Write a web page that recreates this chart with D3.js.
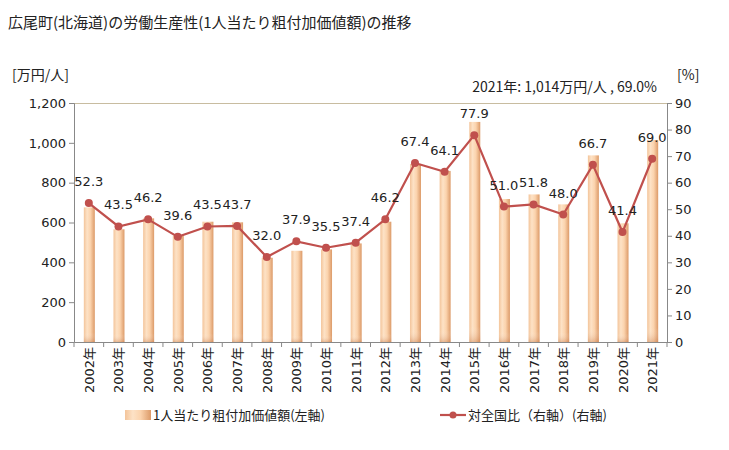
<!DOCTYPE html>
<html><head><meta charset="utf-8">
<script src="https://cdn.jsdelivr.net/npm/d3@7"></script>
<style>
body{margin:0;background:#fff;}
svg text{font-family:"DejaVu Sans",Verdana,"Noto Sans CJK JP",sans-serif;fill:#222;}
.jp{font-family:"Noto Sans CJK JP",sans-serif;}
</style></head>
<body>
<svg id="c" width="729" height="450"></svg>
<script>
const years = ["2002年","2003年","2004年","2005年","2006年","2007年","2008年","2009年","2010年","2011年","2012年","2013年","2014年","2015年","2016年","2017年","2018年","2019年","2020年","2021年"];
const productivity = [676,566,621,534,604,601,423,458,465,495,604,894,859,1105,718,741,691,937,596,1014];
const ratio = [52.3,43.5,46.2,39.6,43.5,43.7,32.0,37.9,35.5,37.4,46.2,67.4,64.1,77.9,51.0,51.8,48.0,66.7,41.4,69.0];
const leftTicks = [0,200,400,600,800,1000,1200];
const rightTicks = [0,10,20,30,40,50,60,70,80,90];

const svg = d3.select("#c");
const L=74, R=667, T=103, B=342;
const x = d3.scaleBand().domain(years).range([L,R]);
const yL = d3.scaleLinear().domain([0,1200]).range([B,T]);
const yR = d3.scaleLinear().domain([0,90]).range([B,T]);

const defs = svg.append("defs");
const g1 = defs.append("linearGradient").attr("id","barg").attr("x1","0").attr("x2","1").attr("y1","0").attr("y2","0");
g1.append("stop").attr("offset","0").attr("stop-color","#f3c49a");
g1.append("stop").attr("offset","0.3").attr("stop-color","#fde2c6");
g1.append("stop").attr("offset","0.6").attr("stop-color","#fbd3ad");
g1.append("stop").attr("offset","1").attr("stop-color","#dc9a68");
const g2 = defs.append("linearGradient").attr("id","barv").attr("x1","0").attr("x2","0").attr("y1","0").attr("y2","1");
g2.append("stop").attr("offset","0").attr("stop-color","#fff").attr("stop-opacity","0");
g2.append("stop").attr("offset","0.93").attr("stop-color","#fff").attr("stop-opacity","0");
g2.append("stop").attr("offset","1").attr("stop-color","#c07040").attr("stop-opacity","0.35");

// title
svg.append("text").attr("class","jp").attr("x",8).attr("y",28).attr("font-size",15).text("広尾町(北海道)の労働生産性(1人当たり粗付加価値額)の推移");
svg.append("text").attr("class","jp").attr("x",12).attr("y",80).attr("font-size",14).text("[万円/人]");
svg.append("text").attr("class","jp").attr("x",677).attr("y",80).attr("font-size",14).text("[%]");
svg.append("text").attr("class","jp").attr("x",657).attr("y",92).attr("text-anchor","end").attr("font-size",14).text("2021年: 1,014万円/人 , 69.0%");

// top border
svg.append("line").attr("x1",L).attr("x2",R).attr("y1",T+0.5).attr("y2",T+0.5).attr("stroke","#c8bca0");

const bw = 11;
const bars = svg.append("g");
bars.selectAll("rect.b").data(productivity).join("rect").attr("class","b")
  .attr("x",(d,i)=>x(years[i])+x.bandwidth()/2-bw/2+0.5).attr("width",bw)
  .attr("y",d=>yL(d)).attr("height",d=>B-yL(d)).attr("fill","url(#barg)");
bars.selectAll("rect.v").data(productivity).join("rect").attr("class","v")
  .attr("x",(d,i)=>x(years[i])+x.bandwidth()/2-bw/2+0.5).attr("width",bw)
  .attr("y",d=>yL(d)).attr("height",d=>B-yL(d)).attr("fill","url(#barv)");

// axes
const axL = svg.append("g").attr("transform",`translate(${L},0)`).call(d3.axisLeft(yL).tickValues(leftTicks).tickFormat(d3.format(",")).tickSize(5));
const axR = svg.append("g").attr("transform",`translate(${R},0)`).call(d3.axisRight(yR).tickValues(rightTicks).tickSize(5));
const axB = svg.append("g").attr("transform",`translate(0,${B})`).call(d3.axisBottom(x).tickSize(0).tickFormat(""));
[axL,axR,axB].forEach(a=>{a.selectAll("path,line").attr("stroke","#888");a.selectAll("text").attr("font-size",13).attr("fill","#222").attr("font-family","DejaVu Sans,Verdana,sans-serif");});
axL.selectAll("text").attr("x",-8);
axR.selectAll("text").attr("x",8);
// bottom ticks at band boundaries
svg.append("g").selectAll("line").data(years.concat(["end"])).join("line")
  .attr("x1",(d,i)=>i<years.length?x(d):R).attr("x2",(d,i)=>i<years.length?x(d):R)
  .attr("y1",B).attr("y2",B+5).attr("stroke","#888");
// x labels rotated
svg.append("g").selectAll("text").data(years).join("text")
  .attr("transform",d=>`translate(${x(d)+x.bandwidth()/2+5},${347}) rotate(-90)`)
  .attr("text-anchor","end").attr("font-size",13).text(d=>d);

// line
const line = d3.line().x((d,i)=>x(years[i])+x.bandwidth()/2).y(d=>yR(d));
svg.append("path").datum(ratio).attr("d",line).attr("fill","none").attr("stroke","#c0504d").attr("stroke-width",2.2);
svg.append("g").selectAll("circle").data(ratio).join("circle")
  .attr("cx",(d,i)=>x(years[i])+x.bandwidth()/2).attr("cy",d=>yR(d)).attr("r",4).attr("fill","#c0504d");
svg.append("g").selectAll("text").data(ratio).join("text")
  .attr("x",(d,i)=>x(years[i])+x.bandwidth()/2).attr("y",d=>yR(d)-17)
  .attr("text-anchor","middle").attr("font-size",13).text(d=>d.toFixed(1));

// legend
const lg = svg.append("g");
lg.append("rect").attr("x",125).attr("y",410).attr("width",26).attr("height",10).attr("fill","url(#barg)");
lg.append("text").attr("class","jp").attr("x",153).attr("y",420).attr("font-size",13).text("1人当たり粗付加価値額(左軸)");
lg.append("line").attr("x1",440).attr("x2",466).attr("y1",415).attr("y2",415).attr("stroke","#c0504d").attr("stroke-width",2.2);
lg.append("circle").attr("cx",453).attr("cy",415).attr("r",3.5).attr("fill","#c0504d");
lg.append("text").attr("class","jp").attr("x",468).attr("y",420).attr("font-size",13).text("対全国比（右軸）(右軸)");
</script>
</body></html>
